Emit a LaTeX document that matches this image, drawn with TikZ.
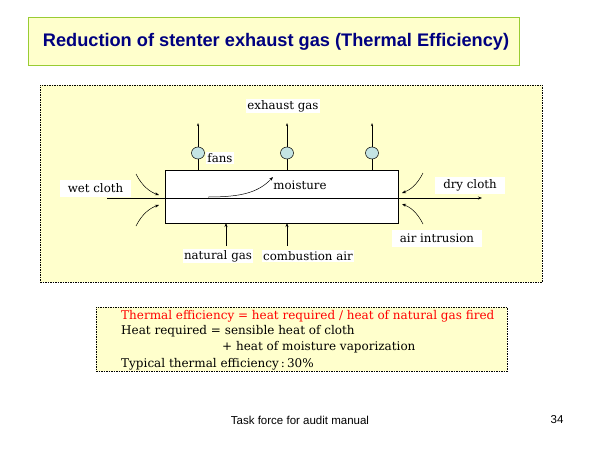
\documentclass[tikz,border=0pt]{standalone}
\usepackage{fontspec}
\setmainfont{DejaVu Serif}
\newfontfamily\arialfont{Liberation Sans}
\usetikzlibrary{arrows.meta,shapes.geometric}
\definecolor{paleyellow}{HTML}{FFFFCC}
\definecolor{titlegreen}{HTML}{99CC33}
\definecolor{titlenavy}{HTML}{000080}
\definecolor{fanblue}{HTML}{C4E4E4}
\tikzset{
  lbl/.style={fill=white, inner sep=1.5pt, font=\fontsize{11.8}{13}\selectfont},
  flow/.style={-{Stealth[length=4pt,width=3pt]}, line width=0.6pt},
  tinyflow/.style={-{Stealth[length=3pt,width=2pt]}, line width=0.6pt},
  fan/.style={ellipse, draw, fill=fanblue, minimum width=13pt, minimum height=12pt, inner sep=0pt, line width=0.5pt},
  dashbox/.style={draw, dashed, dash pattern=on 1.5pt off 1pt, fill=paleyellow, line width=0.5pt},
  txt/.style={anchor=west, inner sep=0pt, font=\fontsize{12}{14}\selectfont}
}
\begin{document}
\begin{tikzpicture}[x=1pt,y=-1pt]
\useasboundingbox (0,0) rectangle (600,450);
\fill[white] (0,0) rectangle (600,450);
% title
\node[draw=titlegreen, line width=0.9pt, fill=paleyellow, minimum width=491pt, minimum height=48pt, inner sep=0pt] (titlebox) at (273.5,41) {};
\node[text=titlenavy, font=\arialfont\bfseries\fontsize{18.2}{20}\selectfont] (title) at (276,42) {Reduction of stenter exhaust gas (Thermal Efficiency)};
% diagram frame
\node[dashbox, minimum width=502pt, minimum height=197pt, inner sep=0pt] (frame) at (291,183.5) {};
% stenter
\node[draw, fill=white, line width=0.6pt, minimum width=233pt, minimum height=53pt, inner sep=0pt] (stenter) at (281.5,196.5) {};
% cloth line
\coordinate (clothin) at (107,198);
\coordinate (clothout) at (482,198);
\draw[flow] (clothin) -- (clothout);
% fans
\foreach \i/\x in {1/198,2/287,3/372} {
  \node[fan] (fan\i) at (\x,153) {};
  \coordinate (fanbase\i) at (\x,170);
  \coordinate (fantop\i) at (\x,123);
  \draw[line width=0.6pt] (fanbase\i) -- (fan\i.south);
  \draw[tinyflow] (fan\i.north) -- (fantop\i);
}
% labels
\node[lbl] (exh) at (283,106) {exhaust gas};
\node[lbl] (fans) at (220,158) {fans};
\node[lbl, minimum width=71pt, minimum height=17pt] (wet) at (95.5,188) {wet cloth};
\node[lbl, minimum width=70pt, minimum height=17pt] (dry) at (470,185) {dry cloth};
\node[lbl] (moist) at (300,185) {moisture};
\node[lbl, minimum width=90pt, minimum height=17pt] (airin) at (437,238.5) {air intrusion};
\node[lbl] (ngas) at (218,256) {natural gas};
\node[lbl] (cair) at (308,256) {combustion air};
% moisture curve
\coordinate (mstart) at (208,197);
\coordinate (mend) at (273,177);
\draw[flow, line width=0.5pt] (mstart) .. controls (240,197) and (258,193) .. (mend);
% bottom inputs
\coordinate (ngin) at (226,246);
\coordinate (ngend) at (226,223);
\coordinate (cain) at (287,246);
\coordinate (caend) at (287,223);
\draw[flow] (ngin) -- (ngend);
\draw[flow] (cain) -- (caend);
% air intrusion arrows
\coordinate (lt1) at (136,174); \coordinate (lt2) at (159,195);
\coordinate (lb1) at (136,226); \coordinate (lb2) at (159,205);
\coordinate (rt1) at (423,173); \coordinate (rt2) at (402,193);
\coordinate (rb1) at (423,224); \coordinate (rb2) at (402,204);
\draw[flow, line width=0.5pt] (lt1) .. controls (142,186) and (150,192) .. (lt2);
\draw[flow, line width=0.5pt] (lb1) .. controls (142,214) and (150,208) .. (lb2);
\draw[flow, line width=0.5pt] (rt1) .. controls (417,185) and (410,190) .. (rt2);
\draw[flow, line width=0.5pt] (rb1) .. controls (417,212) and (410,207) .. (rb2);
% text box
\node[dashbox, minimum width=411pt, minimum height=64pt, inner sep=0pt] (tbox) at (301.5,339) {};
\node[txt, text=red] (l1) at (121,316) {Thermal efficiency = heat required / heat of natural gas fired};
\node[txt] (l2) at (121,331) {Heat required = sensible heat of cloth};
\node[txt] (l3) at (222,347) {+ heat of moisture vaporization};
\node[txt] (l4) at (121,364) {Typical thermal efficiency\,:\,30\%};
% footer
\node[font=\arialfont\fontsize{11.5}{13}\selectfont] (foot) at (300,420) {Task force for audit manual};
\node[font=\arialfont\fontsize{11.5}{13}\selectfont] (page) at (557,420) {34};
\end{tikzpicture}
\end{document}
